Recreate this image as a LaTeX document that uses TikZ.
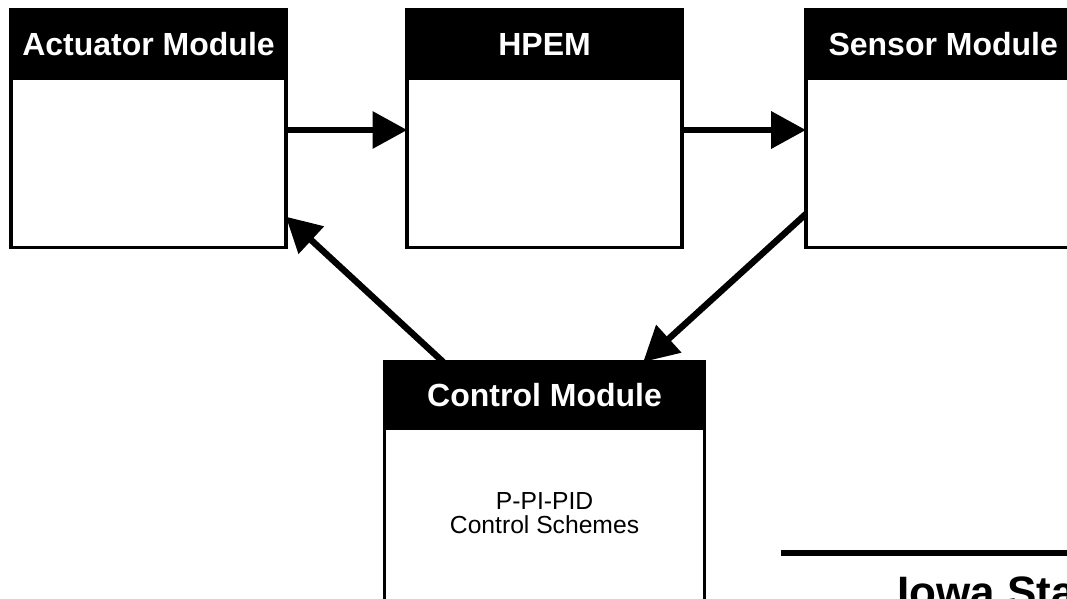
\documentclass[tikz,border=0pt]{standalone}
\usepackage{fontspec}
\setmainfont{Liberation Sans}
\usetikzlibrary{
  arrows.meta,
  positioning,
  calc
}
\tikzset{
  header/.style={
    draw=black,
    fill=black,
    text=white,
    font=\fontsize{24}{28}\selectfont\bfseries,
    minimum width=#1,
    minimum height=51pt,
    line width=2.6pt,
    inner sep=0pt,
    outer sep=0pt,
  },
  header/.default=206pt,
  body/.style={
    draw=black,
    fill=white,
    minimum width=#1,
    minimum height=127pt,
    line width=2.6pt,
    inner sep=0pt,
    outer sep=0pt,
  },
  body/.default=206pt,
  flow/.style={
    -{Triangle[length=26pt, width=27pt]},
    line width=4.8pt,
    draw=black,
  },
  schemes/.style={
    font=\fontsize{18.5}{18}\selectfont,
    align=center,
    inner sep=0pt,
  },
  logo/.style={
    font=\fontsize{33}{36}\selectfont\bfseries,
    anchor=base west,
    inner sep=0pt,
  },
}

\begin{document}
\begin{tikzpicture}

\useasboundingbox (-111.4pt,33pt) rectangle (688.85pt,-416.25pt);

% === ROW 1: Actuator -> HPEM -> Sensor ===

\node[header] (acthead) at (0,0) {Actuator Module};
\node[body, below=0pt of acthead] (actbody) {};

\node[header, right=91pt of acthead] (hpemhead) {HPEM};
\node[body, below=0pt of hpemhead] (hpembody) {};

\node[header, right=93pt of hpemhead] (senshead) {Sensor Module};
\node[body, below=0pt of senshead] (sensbody) {};

\draw[flow] ([yshift=24.5pt]actbody.east) -- ([yshift=24.5pt]hpembody.west);
\draw[flow] ([yshift=24.5pt]hpembody.east) -- ([yshift=24.5pt]sensbody.west);

% === ROW 2: Control ===

\node[header=240pt, minimum height=50pt, below=86pt of hpembody]
  (ctrlhead) {Control Module};
\node[body=240pt, minimum height=200pt, below=0pt of ctrlhead] (ctrlbody) {};

\node[schemes] (ctrltext) at ($(ctrlhead.south)+(0,-63pt)$)
  {P-PI-PID\\Control Schemes};

% feedback loop
\draw[flow] ([yshift=25pt]sensbody.south west) -- ([xshift=74pt]ctrlhead.north);
\draw[flow] ([xshift=-76pt]ctrlhead.north) -- ([yshift=23pt]actbody.south east);

% === Footer ===

\coordinate (rulestart) at (474.4pt,-381.75pt);
\coordinate (ruleend) at (700pt,-381.75pt);
\draw[line width=4.5pt] (rulestart) -- (ruleend);

\node[logo] (iowa) at (561.4pt,-422.25pt) {Iowa Sta};

\end{tikzpicture}
\end{document}
